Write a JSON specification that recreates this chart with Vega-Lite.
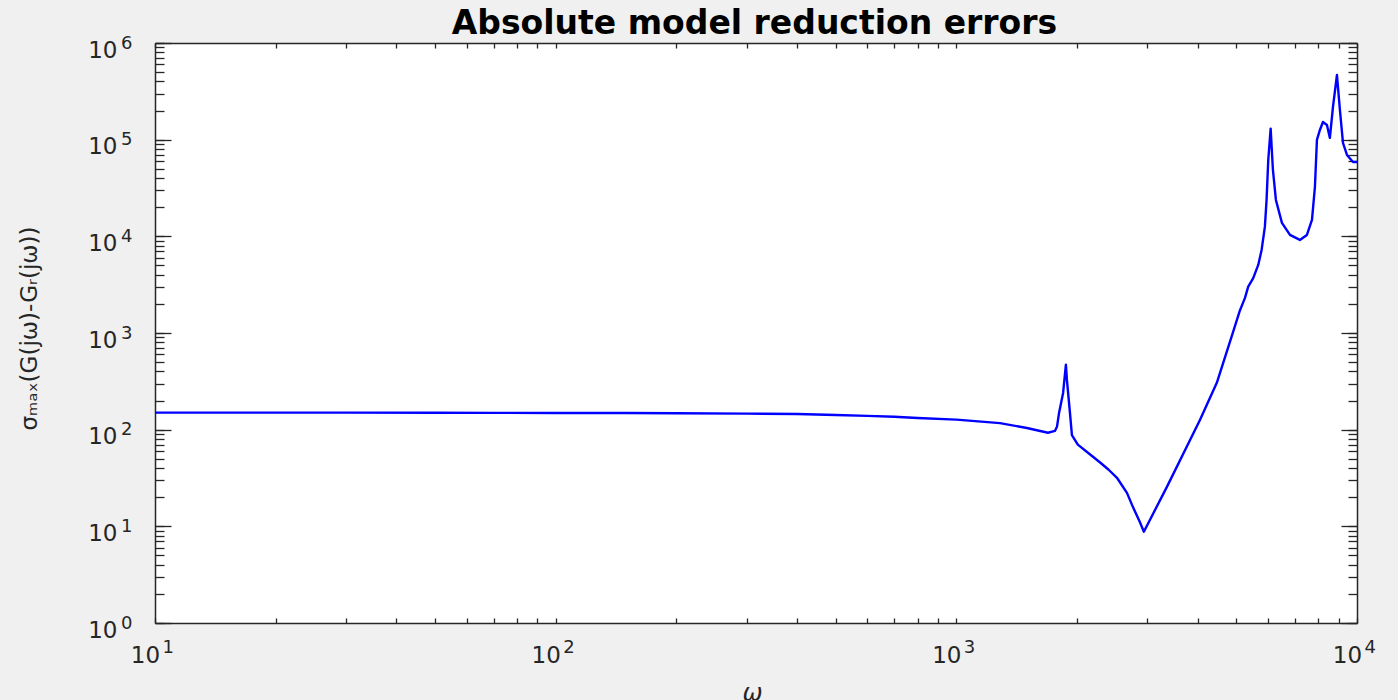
{
  "$schema": "https://vega.github.io/schema/vega-lite/v6.json",
  "width": 1202,
  "height": 580,
  "autosize": {"type": "none"},
  "padding": {"left": 155, "top": 43, "right": 41, "bottom": 77},
  "background": "#f0f0f0",
  "view": {"fill": "white", "stroke": null},
  "config": {
    "axis": {"grid": false, "labelFont": "DejaVu Sans", "titleFont": "DejaVu Sans", "labelColor": "#262626", "titleColor": "#262626", "tickColor": "#262626", "domainColor": "#262626", "domainWidth": 1.5, "tickWidth": 1.3, "labelFlush": false, "labelOverlap": false}
  },
  "data": {"values": [
    {"w": 10, "s": 150}, {"w": 15, "s": 150}, {"w": 20, "s": 150}, {"w": 30, "s": 150},
    {"w": 50, "s": 149.5}, {"w": 70, "s": 149.2}, {"w": 100, "s": 149}, {"w": 150, "s": 148.5},
    {"w": 200, "s": 148}, {"w": 300, "s": 146.5}, {"w": 400, "s": 145}, {"w": 500, "s": 142},
    {"w": 600, "s": 139}, {"w": 700, "s": 136}, {"w": 800, "s": 132}, {"w": 1000, "s": 127},
    {"w": 1285, "s": 117}, {"w": 1500, "s": 104}, {"w": 1693, "s": 93}, {"w": 1762, "s": 97},
    {"w": 1783, "s": 107}, {"w": 1805, "s": 150}, {"w": 1847, "s": 240}, {"w": 1877, "s": 470},
    {"w": 1888, "s": 327}, {"w": 1921, "s": 150}, {"w": 1943, "s": 88}, {"w": 2010, "s": 70},
    {"w": 2150, "s": 56}, {"w": 2281, "s": 46}, {"w": 2400, "s": 38.5}, {"w": 2517, "s": 31.8},
    {"w": 2666, "s": 22.2}, {"w": 2758, "s": 15.9}, {"w": 2871, "s": 11.1}, {"w": 2938, "s": 8.8},
    {"w": 3354, "s": 25.6}, {"w": 4055, "s": 126}, {"w": 4468, "s": 305}, {"w": 4898, "s": 1002},
    {"w": 5100, "s": 1700}, {"w": 5253, "s": 2307}, {"w": 5352, "s": 3020}, {"w": 5508, "s": 3690},
    {"w": 5669, "s": 5060}, {"w": 5780, "s": 7230}, {"w": 5890, "s": 12590}, {"w": 5947, "s": 23800},
    {"w": 6005, "s": 61600}, {"w": 6088, "s": 130000}, {"w": 6168, "s": 48600}, {"w": 6275, "s": 23800},
    {"w": 6496, "s": 13770}, {"w": 6803, "s": 10340}, {"w": 7202, "s": 9180}, {"w": 7499, "s": 10340},
    {"w": 7720, "s": 14790}, {"w": 7852, "s": 32400}, {"w": 7943, "s": 99300}, {"w": 8080, "s": 126000},
    {"w": 8222, "s": 152400}, {"w": 8414, "s": 141900}, {"w": 8557, "s": 104300}, {"w": 8710, "s": 217900},
    {"w": 8912, "s": 466800}, {"w": 9065, "s": 202800}, {"w": 9226, "s": 92400}, {"w": 9440, "s": 69500},
    {"w": 9772, "s": 58700}, {"w": 10000, "s": 58700}
  ]},
  "resolve": {"scale": {"x": "shared", "y": "shared"}, "axis": {"x": "independent", "y": "independent"}},
  "layer": [
    {
      "mark": {"type": "line", "opacity": 0},
      "encoding": {
        "x": {"field": "w", "type": "quantitative", "scale": {"type": "log", "domain": [10, 10000], "nice": false},
          "axis": {"orient": "bottom", "values": [10, 100, 1000, 10000], "ticks": false, "tickSize": 0, "domain": false, "labelFontSize": 23, "labelAlign": "center", "labelBaseline": "middle", "labelPadding": 32, "labelOffset": -10, "labelExpr": "'10'",
            "title": "ω", "titleFontSize": 24, "titleFontStyle": "italic", "titleFontWeight": "normal", "titleX": 597, "titleY": 70, "titleBaseline": "middle", "titleAnchor": "middle"}},
        "y": {"field": "s", "type": "quantitative", "scale": {"type": "log", "domain": [1, 1000000], "nice": false},
          "axis": {"orient": "left", "values": [1, 10, 100, 1000, 10000, 100000, 1000000], "ticks": false, "tickSize": 0, "domain": false, "labelFontSize": 23, "labelAlign": "right", "labelBaseline": "middle", "labelPadding": 38, "labelOffset": 7, "labelExpr": "'10'",
            "title": "σₘₐₓ(G(jω)-Gᵣ(jω))", "titleFontSize": 23, "titleFontWeight": "normal", "titleX": -126, "titleY": 285, "titleBaseline": "middle", "titleAnchor": "middle", "titleAngle": -90}}
      }
    },
    {
      "mark": {"type": "line", "opacity": 0},
      "encoding": {
        "x": {"field": "w", "type": "quantitative", "scale": {"type": "log", "domain": [10, 10000], "nice": false},
          "axis": {"orient": "bottom", "values": [10, 100, 1000, 10000], "ticks": false, "tickSize": 0, "domain": false, "labelFontSize": 18, "labelAlign": "left", "labelBaseline": "middle", "labelPadding": 24, "labelOffset": 7, "labelExpr": "'' + round(log(datum.value)/LN10)", "title": null}},
        "y": {"field": "s", "type": "quantitative", "scale": {"type": "log", "domain": [1, 1000000], "nice": false},
          "axis": {"orient": "left", "values": [1, 10, 100, 1000, 10000, 100000, 1000000], "ticks": false, "tickSize": 0, "domain": false, "labelFontSize": 18, "labelAlign": "right", "labelBaseline": "middle", "labelPadding": 23, "labelOffset": 0, "labelExpr": "'' + round(log(datum.value)/LN10)", "title": null}}
      }
    },
    {
      "mark": {"type": "line", "opacity": 0},
      "encoding": {
        "x": {"field": "w", "type": "quantitative", "scale": {"type": "log", "domain": [10, 10000], "nice": false},
          "axis": {"orient": "top", "values": [10, 20, 30, 40, 50, 60, 70, 80, 90, 100, 200, 300, 400, 500, 600, 700, 800, 900, 1000, 2000, 3000, 4000, 5000, 6000, 7000, 8000, 9000, 10000], "tickSize": -5, "labels": false, "domain": true,
            "title": "Absolute model reduction errors", "titleFontSize": 33, "titleFontWeight": "bold", "titleColor": "black", "titleX": 599, "titleY": -10, "titleBaseline": "alphabetic", "titleAnchor": "middle", "titleAlign": "center"}},
        "y": {"field": "s", "type": "quantitative", "scale": {"type": "log", "domain": [1, 1000000], "nice": false},
          "axis": {"orient": "right", "values": [1, 2, 3, 4, 5, 6, 7, 8, 9, 10, 20, 30, 40, 50, 60, 70, 80, 90, 100, 200, 300, 400, 500, 600, 700, 800, 900, 1000, 2000, 3000, 4000, 5000, 6000, 7000, 8000, 9000, 10000, 20000, 30000, 40000, 50000, 60000, 70000, 80000, 90000, 100000, 200000, 300000, 400000, 500000, 600000, 700000, 800000, 900000, 1000000], "tickSize": -9, "labels": false, "domain": true, "title": null}}
      }
    },
    {
      "mark": {"type": "line", "opacity": 0},
      "encoding": {
        "x": {"field": "w", "type": "quantitative", "scale": {"type": "log", "domain": [10, 10000], "nice": false}, "axis": null},
        "y": {"field": "s", "type": "quantitative", "scale": {"type": "log", "domain": [1, 1000000], "nice": false},
          "axis": {"orient": "left", "values": [1, 10, 100, 1000, 10000, 100000, 1000000], "tickSize": -16, "labels": false, "domain": false, "title": null}}
      }
    },
    {
      "mark": {"type": "line", "opacity": 0},
      "encoding": {
        "x": {"field": "w", "type": "quantitative", "scale": {"type": "log", "domain": [10, 10000], "nice": false}, "axis": null},
        "y": {"field": "s", "type": "quantitative", "scale": {"type": "log", "domain": [1, 1000000], "nice": false},
          "axis": {"orient": "right", "values": [1, 10, 100, 1000, 10000, 100000, 1000000], "tickSize": -16, "labels": false, "domain": false, "title": null}}
      }
    },
    {
      "mark": {"type": "line", "color": "#0000ff", "strokeWidth": 2.4, "interpolate": "linear", "strokeJoin": "round"},
      "encoding": {
        "x": {"field": "w", "type": "quantitative", "scale": {"type": "log", "domain": [10, 10000], "nice": false},
          "axis": {"orient": "bottom", "values": [10, 20, 30, 40, 50, 60, 70, 80, 90, 100, 200, 300, 400, 500, 600, 700, 800, 900, 1000, 2000, 3000, 4000, 5000, 6000, 7000, 8000, 9000, 10000], "tickSize": -5, "labels": false, "domain": true, "title": null}},
        "y": {"field": "s", "type": "quantitative", "scale": {"type": "log", "domain": [1, 1000000], "nice": false},
          "axis": {"orient": "left", "values": [1, 2, 3, 4, 5, 6, 7, 8, 9, 10, 20, 30, 40, 50, 60, 70, 80, 90, 100, 200, 300, 400, 500, 600, 700, 800, 900, 1000, 2000, 3000, 4000, 5000, 6000, 7000, 8000, 9000, 10000, 20000, 30000, 40000, 50000, 60000, 70000, 80000, 90000, 100000, 200000, 300000, 400000, 500000, 600000, 700000, 800000, 900000, 1000000], "tickSize": -9, "labels": false, "domain": true, "title": null}}
      }
    }
  ]
}
